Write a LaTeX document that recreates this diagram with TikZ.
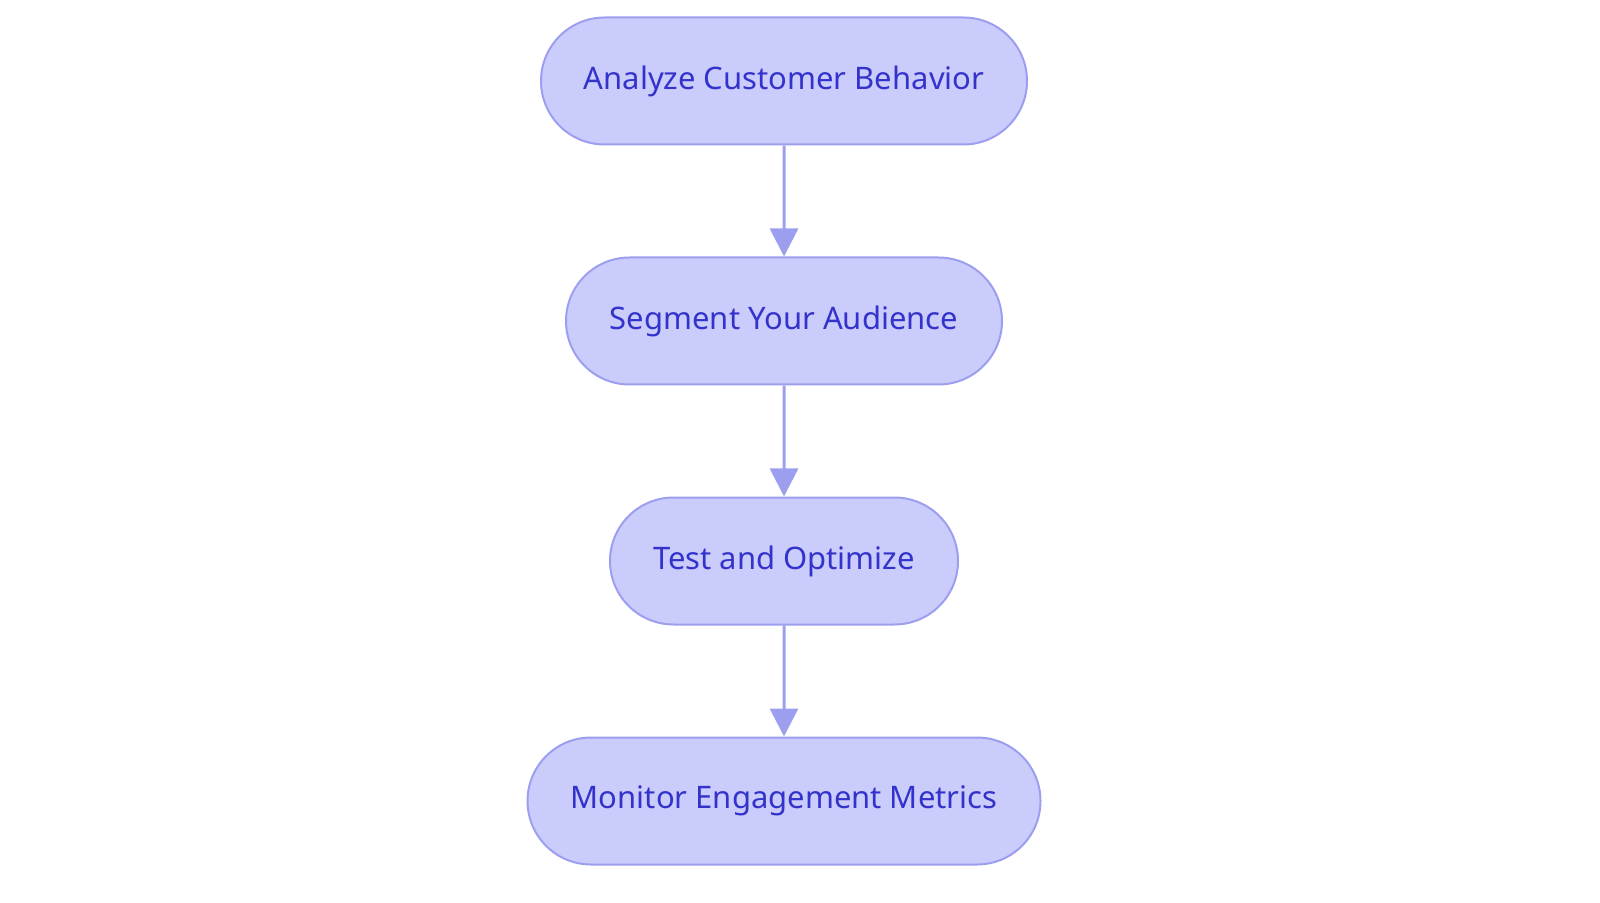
\documentclass[tikz,border=0pt]{standalone}
\usepackage{fontspec}
\setmainfont{Noto Sans}
\usetikzlibrary{shapes.misc,arrows.meta}
\definecolor{nfill}{HTML}{CACCFB}
\definecolor{nline}{HTML}{9C9FEF}
\definecolor{ntext}{HTML}{3333CC}
\begin{document}
\begin{tikzpicture}[x=0.5pt,y=-0.5pt,
  box/.style={rounded rectangle,draw=nline,fill=nfill,line width=1pt,
    minimum height=63.5pt,inner sep=0pt,text=ntext,font=\fontsize{15.5}{18}\selectfont},
  arr/.style={draw=nline,line width=1.5pt,-{Triangle[length=14pt,width=14pt]}}]
\useasboundingbox (0,0) rectangle (1600,903);
\node[box,minimum width=243pt] (a) at (784,81) {Analyze Customer Behavior};
\node[box,minimum width=218pt] (b) at (784,321) {Segment Your Audience};
\node[box,minimum width=174pt] (c) at (784,561) {Test and Optimize};
\node[box,minimum width=256.5pt] (d) at (784,801) {Monitor Engagement Metrics};
\draw[arr] (a) -- (b);
\draw[arr] (b) -- (c);
\draw[arr] (c) -- (d);
\end{tikzpicture}
\end{document}
